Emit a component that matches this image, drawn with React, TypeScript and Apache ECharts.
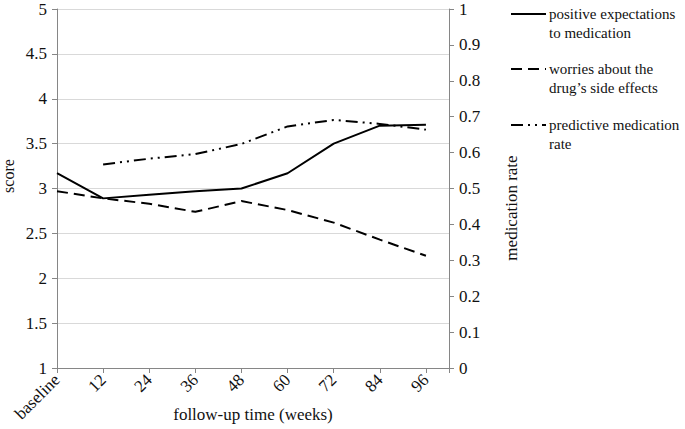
import React, { useEffect, useRef } from "react";
import * as echarts from "echarts";

const categories = ["baseline", "12", "24", "36", "48", "60", "72", "84", "96"];
const positiveExpectations = [3.17, 2.89, 2.93, 2.97, 3.0, 3.17, 3.5, 3.7, 3.71];
const worriesSideEffects = [2.97, 2.89, 2.83, 2.74, 2.86, 2.76, 2.62, 2.43, 2.25];
const predictiveRate = [null, 0.567, 0.583, 0.596, 0.624, 0.673, 0.691, 0.68, 0.664];
const seriesNames = [
  "positive expectations\nto medication",
  "worries about the\ndrug\u2019s side effects",
  "predictive medication\nrate",
];
const xTitle = "follow-up time (weeks)";
const yLeftTitle = "score";
const yRightTitle = "medication rate";
const dashes: (number[] | "solid")[] = ["solid", [11, 6], [12, 5, 2, 5, 2, 5]];

const FONT = "'Liberation Serif', 'Times New Roman', serif";

function toPairs(vals: (number | null)[]) {
  const out: [number, number][] = [];
  vals.forEach((v, i) => {
    if (v !== null) out.push([i, v]);
  });
  return out;
}

export default function App() {
  const ref = useRef<HTMLDivElement>(null);
  useEffect(() => {
    if (!ref.current) return;
    const chart = echarts.init(ref.current, undefined, { renderer: "svg" });
    const lineStyle = (i: number) => ({ color: "#000", width: 2, type: dashes[i] as any });
    const graphics: any[] = [];
    const legendY = [14, 69, 125];
    seriesNames.forEach((name, i) => {
      graphics.push({
        type: "line",
        shape: { x1: 511, y1: legendY[i], x2: 546, y2: legendY[i] },
        style: { stroke: "#000", lineWidth: 2, lineDash: dashes[i] === "solid" ? null : dashes[i] },
      });
      graphics.push({
        type: "text",
        x: 549,
        y: legendY[i] - 9,
        style: {
          text: name,
          font: `15px ${FONT}`,
          fill: "#111",
          lineHeight: 18.5,
          textVerticalAlign: "top",
        },
      });
    });
    graphics.push({
      type: "text",
      x: 253,
      y: 414,
      style: { text: xTitle, font: `17px ${FONT}`, fill: "#111", textAlign: "center", textVerticalAlign: "middle" },
    });
    graphics.push({
      type: "text",
      x: 8,
      y: 176,
      rotation: Math.PI / 2,
      style: { text: yLeftTitle, font: `16px ${FONT}`, fill: "#111", textAlign: "center", textVerticalAlign: "middle" },
    });
    graphics.push({
      type: "text",
      x: 511,
      y: 208,
      rotation: Math.PI / 2,
      style: { text: yRightTitle, font: `17px ${FONT}`, fill: "#111", textAlign: "center", textVerticalAlign: "middle" },
    });
    chart.setOption({
      animation: false,
      textStyle: { fontFamily: FONT },
      grid: { left: 57, right: 236, top: 9, bottom: 61, containLabel: false, outerBoundsMode: "none" },
      xAxis: {
        type: "value",
        min: 0,
        max: 8.5,
        interval: 1,
        axisLine: { lineStyle: { color: "#868686" } },
        axisTick: { show: true, length: 5, lineStyle: { color: "#868686" } },
        splitLine: { show: false },
        axisLabel: {
          rotate: 45,
          fontSize: 17,
          color: "#111",
          fontFamily: FONT,
          margin: 9,
          formatter: (v: number) =>
            Number.isInteger(v) && v >= 0 && v < categories.length ? categories[v] : "",
        },
      },
      yAxis: [
        {
          type: "value",
          min: 1,
          max: 5,
          interval: 0.5,
          axisLine: { show: true, lineStyle: { color: "#868686" } },
          axisTick: { show: true, length: 5, lineStyle: { color: "#868686" } },
          splitLine: { show: true, lineStyle: { color: "#d9d9d9", width: 1 } },
          axisLabel: { fontSize: 17, color: "#111", fontFamily: FONT, margin: 10 },
        },
        {
          type: "value",
          min: 0,
          max: 1,
          interval: 0.1,
          axisLine: { show: true, lineStyle: { color: "#868686" } },
          axisTick: { show: true, length: 5, lineStyle: { color: "#868686" } },
          splitLine: { show: false },
          axisLabel: { fontSize: 17, color: "#111", fontFamily: FONT, margin: 10 },
        },
      ],
      series: [
        {
          name: seriesNames[0],
          type: "line",
          yAxisIndex: 0,
          data: toPairs(positiveExpectations),
          showSymbol: false,
          symbol: "none",
          lineStyle: lineStyle(0),
        },
        {
          name: seriesNames[1],
          type: "line",
          yAxisIndex: 0,
          data: toPairs(worriesSideEffects),
          showSymbol: false,
          symbol: "none",
          lineStyle: lineStyle(1),
        },
        {
          name: seriesNames[2],
          type: "line",
          yAxisIndex: 1,
          data: toPairs(predictiveRate),
          showSymbol: false,
          symbol: "none",
          lineStyle: lineStyle(2),
        },
      ],
      graphic: graphics,
    });
    return () => chart.dispose();
  }, []);
  return (
    <div
      ref={ref}
      style={{ position: "fixed", left: 0, top: 0, width: 685, height: 429, background: "#fff" }}
    />
  );
}
